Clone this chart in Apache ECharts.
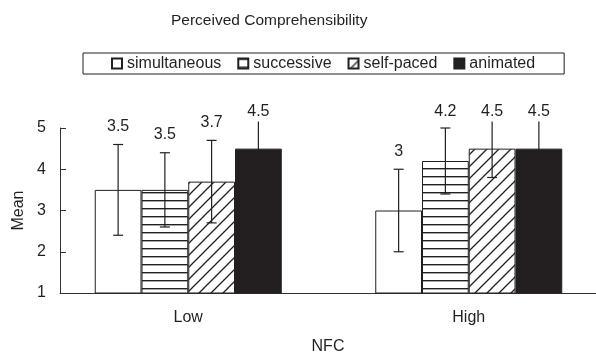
<!DOCTYPE html>
<html>
<head>
<meta charset="utf-8">
<script src="https://cdn.jsdelivr.net/npm/echarts@6/dist/echarts.min.js"></script>
<style>html,body{margin:0;padding:0;background:#fff}#c{width:596px;height:353px}</style>
</head>
<body>
<div id="c"></div>
<script>
// ---- data ----
const categories = ['Low', 'High'];
const seriesNames = ['simultaneous', 'successive', 'self-paced', 'animated'];
const simultaneous = [3.5, 3.0];
const successive = [3.5, 4.2];
const selfPaced = [3.7, 4.5];
const animated = [4.5, 4.5];
const errSimultaneous = [1.1, 1.0];
const errSuccessive = [0.9, 0.8];
const errSelfPaced = [1.0, 0.7];
const errAnimated = [0.9, 0.7];
const yTicks = [1, 2, 3, 4, 5];

const INK = '#231f20';
const FONT = 'Liberation Sans, Arial, Helvetica, sans-serif';
const BAR_W = 46.75;

function hPattern() {
  const c = document.createElement('canvas');
  c.width = 8; c.height = 8;
  const g = c.getContext('2d');
  g.fillStyle = '#fff'; g.fillRect(0, 0, 8, 8);
  g.fillStyle = INK; g.fillRect(0, 0, 8, 1.4);
  return { image: c, repeat: 'repeat' };
}
function dPattern() {
  const s = 12;
  const c = document.createElement('canvas');
  c.width = s; c.height = s;
  const g = c.getContext('2d');
  g.fillStyle = '#fff'; g.fillRect(0, 0, s, s);
  g.strokeStyle = INK; g.lineWidth = 1.3;
  g.beginPath();
  g.moveTo(-1, s + 1); g.lineTo(s + 1, -1);
  g.moveTo(-1, 1); g.lineTo(1, -1);
  g.moveTo(s - 1, s + 1); g.lineTo(s + 1, s - 1);
  g.stroke();
  return { image: c, repeat: 'repeat' };
}

const values = [simultaneous, successive, selfPaced, animated];
const errors = [errSimultaneous, errSuccessive, errSelfPaced, errAnimated];
const fills = ['#ffffff', hPattern(), dPattern(), INK];

const series = [];
values.forEach((vals, i) => {
  series.push({
    name: seriesNames[i],
    type: 'bar',
    xAxisIndex: 1, yAxisIndex: 1,
    barWidth: BAR_W,
    barGap: '0%',
    data: vals,
    itemStyle: { color: fills[i], borderColor: INK, borderWidth: 1 },
    z: 2
  });
});
values.forEach((vals, i) => {
  series.push({
    type: 'custom',
    xAxisIndex: 1, yAxisIndex: 1,
    z: 5,
    clip: false,
    silent: true,
    data: vals.map((v, k) => [k, v, errors[i][k]]),
    renderItem: function (params, api) {
      const k = api.value(0), m = api.value(1), e = api.value(2);
      const c = api.coord([k, m]);
      const x = c[0] + (i - 1.5) * BAR_W;
      const yt = api.coord([k, m + e])[1];
      const yb = api.coord([k, m - e])[1];
      const yMinLabel = api.coord([k, 5.4])[1];
      const ly = Math.max(yt - 18, yMinLabel);
      const ls = { stroke: INK, lineWidth: 1.2 };
      return {
        type: 'group',
        children: [
          { type: 'line', shape: { x1: x, y1: yt, x2: x, y2: yb }, style: ls },
          { type: 'line', shape: { x1: x - 5, y1: yt, x2: x + 5, y2: yt }, style: ls },
          { type: 'line', shape: { x1: x - 5, y1: yb, x2: x + 5, y2: yb }, style: ls },
          { type: 'text', z2: 10, style: {
              text: String(m), x: x, y: ly, align: 'center', verticalAlign: 'middle',
              fill: INK, font: '16px ' + FONT, backgroundColor: '#fff', padding: [2, 2]
          } }
        ]
      };
    }
  });
});

const chart = echarts.init(document.getElementById('c'));
chart.setOption({
  animation: false,
  backgroundColor: '#fff',
  textStyle: { fontFamily: FONT, color: INK },
  title: {
    text: 'Perceived Comprehensibility',
    left: 166, top: 8,
    textStyle: { fontSize: 15.5, fontWeight: 'normal', color: INK, fontFamily: FONT }
  },
  legend: {
    data: seriesNames,
    left: 83, top: 53,
    padding: [2.5, 29, 2.5, 28],
    borderColor: INK, borderWidth: 1,
    icon: 'rect', itemWidth: 10, itemHeight: 10, itemGap: 16,
    textStyle: { fontSize: 16, color: INK, fontFamily: FONT, padding: [0, 0, 0, 0] },
    selectedMode: false
  },
  grid: [
    { left: 60, right: 0, top: 128, bottom: 60, outerBoundsMode: 'none', containLabel: false },
    { left: 48, right: -13, top: 128, bottom: 60, outerBoundsMode: 'none', containLabel: false }
  ],
  xAxis: [
    { type: 'category', gridIndex: 0, data: categories,
      axisLine: { show: true, lineStyle: { color: '#333', width: 1 } },
      axisTick: { show: false }, axisLabel: { show: false },
      name: 'NFC', nameLocation: 'middle', nameGap: 46,
      nameTextStyle: { fontSize: 16, color: INK, fontFamily: FONT } },
    { type: 'category', gridIndex: 1, data: categories,
      axisLine: { show: false }, axisTick: { show: false },
      axisLabel: { fontSize: 16, color: INK, margin: 17, fontFamily: FONT } }
  ],
  yAxis: [
    { type: 'value', gridIndex: 0, min: yTicks[0], max: yTicks[yTicks.length - 1], interval: 1,
      axisLine: { show: true, lineStyle: { color: '#333', width: 1 } },
      axisTick: { show: true, inside: true, length: 6, lineStyle: { color: '#333' } },
      splitLine: { show: false },
      axisLabel: { fontSize: 16, color: INK, margin: 14, fontFamily: FONT },
      name: 'Mean', nameLocation: 'middle', nameGap: 28,
      nameTextStyle: { fontSize: 16, color: INK, fontFamily: FONT } },
    { type: 'value', gridIndex: 1, min: yTicks[0], max: yTicks[yTicks.length - 1], interval: 1, show: false }
  ],
  series: series
});
</script>
</body>
</html>
